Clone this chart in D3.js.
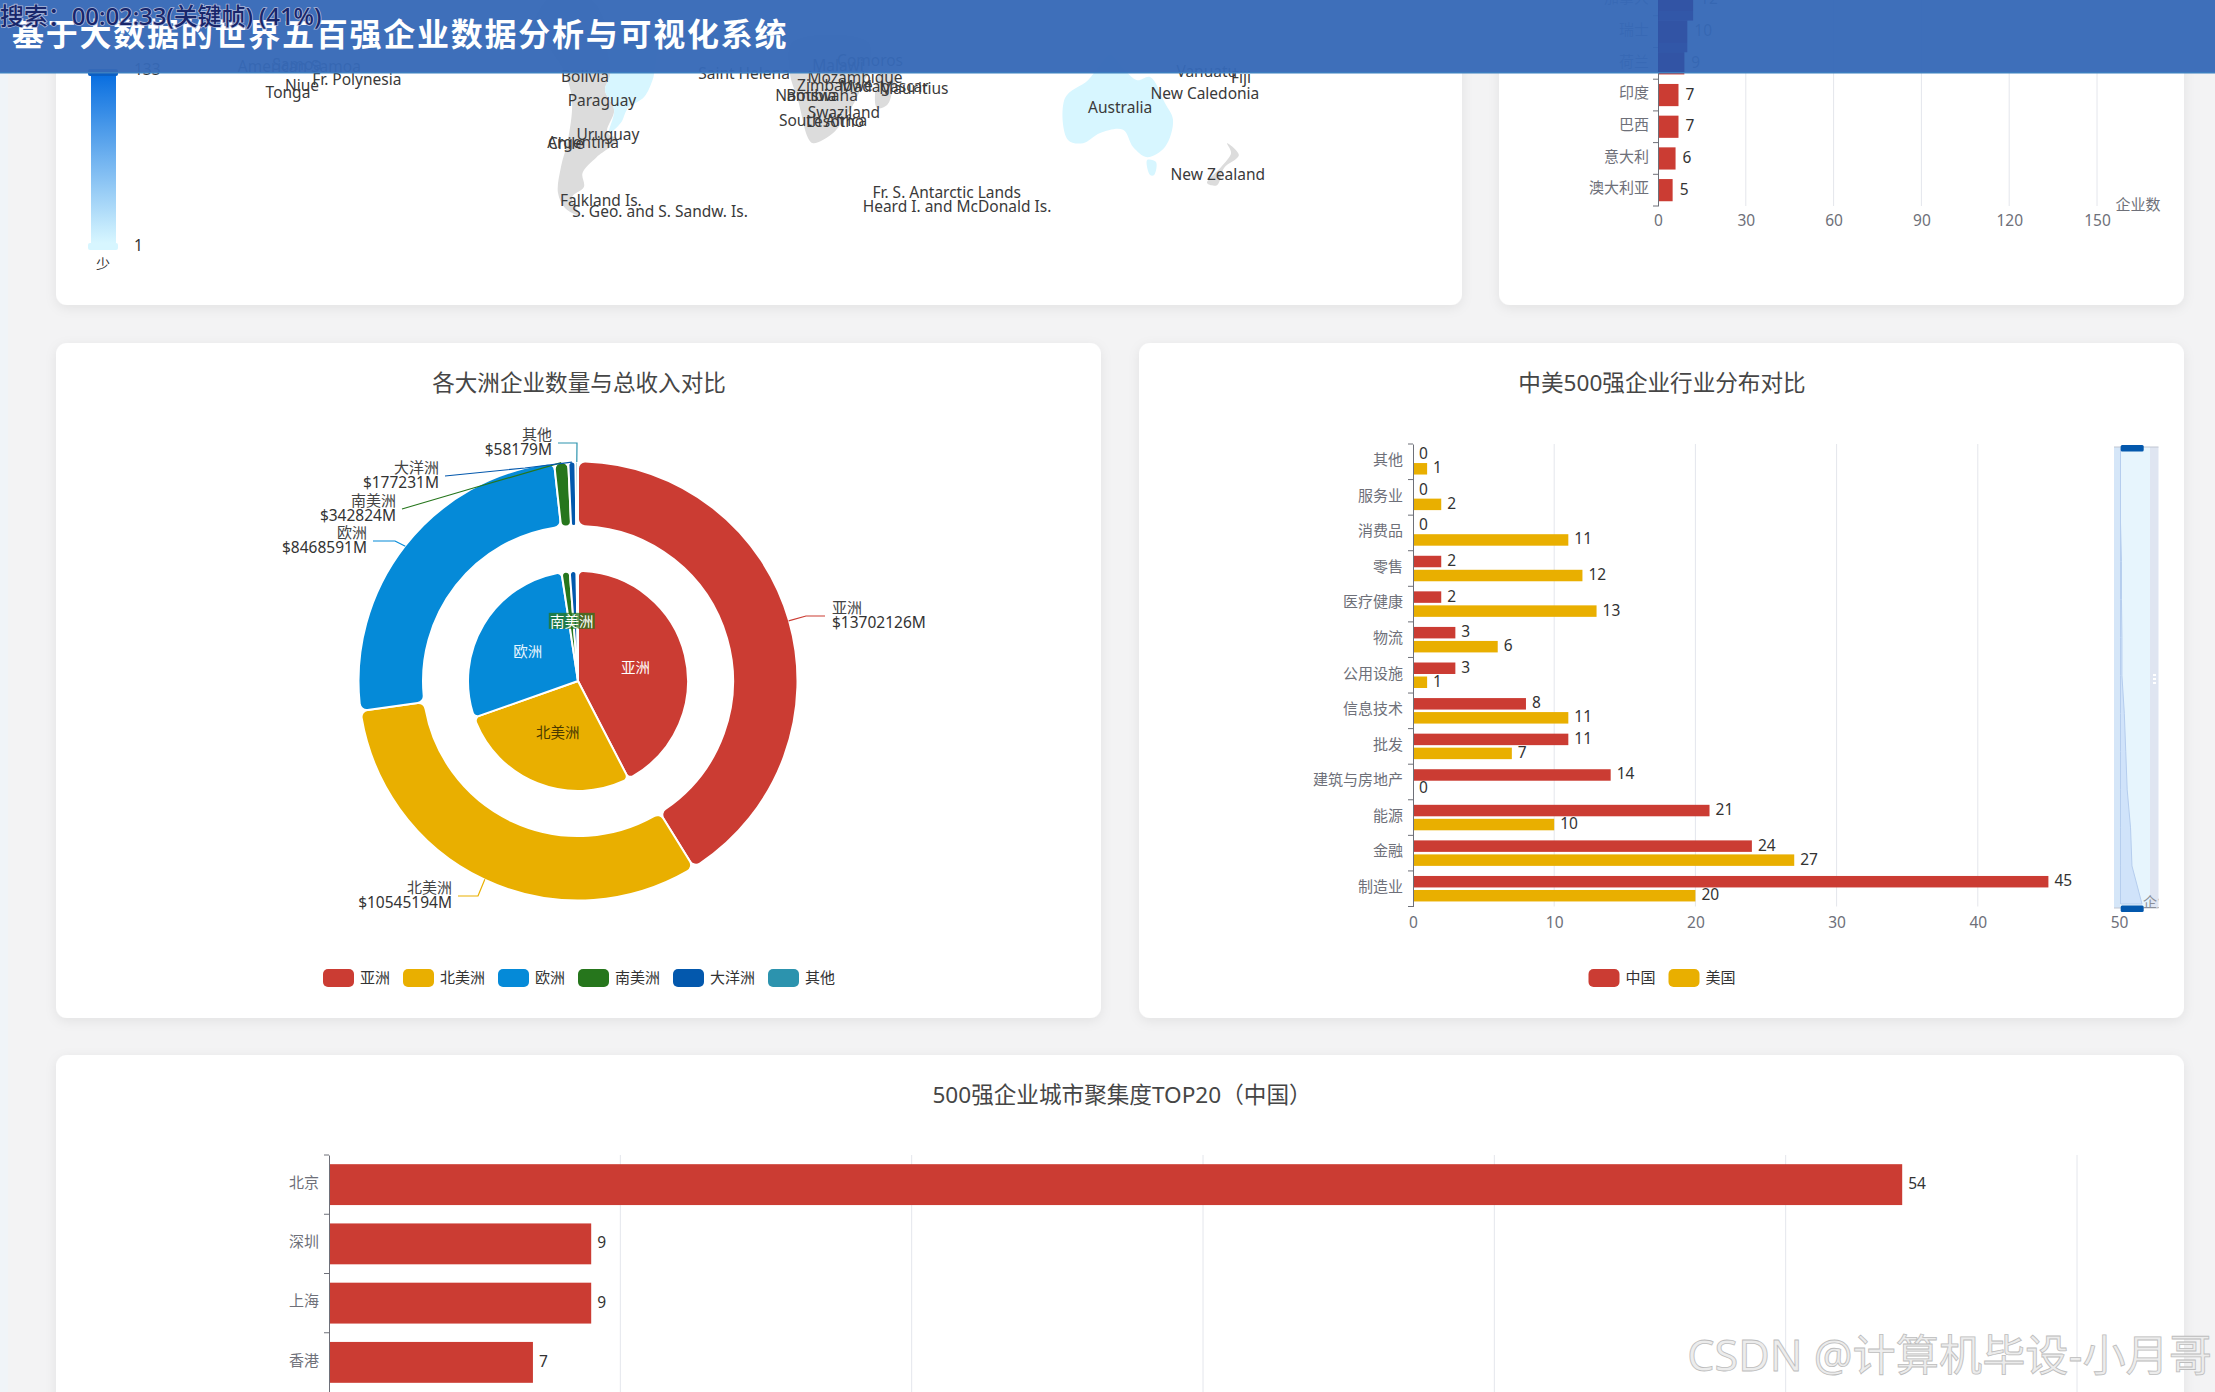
<!DOCTYPE html>
<html><head><meta charset="utf-8">
<script src="https://cdn.jsdelivr.net/npm/d3@7/dist/d3.min.js"></script>
<style>
html,body{margin:0;padding:0;background:#f3f3f4;overflow:hidden}
svg{display:block;font-family:"Noto Sans","Noto Sans CJK SC",sans-serif}
text{font-family:"Noto Sans","Noto Sans CJK SC",sans-serif}
</style></head><body>
<svg id="c" width="2215" height="1392"></svg>
<script>
// ---------- data ----------
const continents=["亚洲","北美洲","欧洲","南美洲","大洋洲","其他"];
const continentCompanies=[212,136,140,6,5,1];
const continentRevenue=[13702126,10545194,8468591,342824,177231,58179];
const continentColors=["#cb3c33","#e9af00","#058ad8","#26761c","#0358ad","#2c93ae"];

const industries=["其他","服务业","消费品","零售","医疗健康","物流","公用设施","信息技术","批发","建筑与房地产","能源","金融","制造业"];
const chinaCounts=[0,0,0,2,2,3,3,8,11,14,21,24,45];
const usaCounts=[1,2,11,12,13,6,1,11,7,0,10,27,20];
const compareNames=["中国","美国"];

const countries=["加拿大","瑞士","荷兰","印度","巴西","意大利","澳大利亚"];
const countryCounts=[12,10,9,7,7,6,5];
const countryTicks=[0,30,60,90,120,150];

const cities=["北京","深圳","上海","香港"];
const cityCounts=[54,9,9,7];
const cityTicks=[0,10,20,30,40,50,60];

// map: [lon, lat] outlines
const landGrey=[
 {name:"South America W",pts:[[-72,-8],[-78,-2],[-70,8],[-55,5],[-49.4,-14.9],[-51.5,-19.7],[-48.1,-25.4],[-50.7,-31.7],[-47,-34],[-54.6,-38.9],[-59.8,-43.4],[-59.3,-47.4],[-63.7,-50.3],[-61.1,-55.4],[-66.3,-53.4],[-68.9,-49.1],[-67.8,-41.7],[-65.2,-34],[-63.7,-22.6],[-66.3,-14.9]]},
 {name:"Southern Africa",pts:[[18,-6],[46,-6],[45.9,-14.9],[44.1,-17.7],[41.9,-21.7],[38.5,-26.3],[33,-32],[25.6,-34.9],[23.7,-33.4],[20,-22.6],[17,-14.9]]},
 {name:"Madagascar",pts:[[50.4,-14.9],[55.9,-14.9],[54.8,-20.6],[53,-24],[49.3,-24.9],[48.5,-21.1]]},
 {name:"New Zealand",pts:[[178.9,-34.9],[183.3,-38.3],[177.8,-42],[175.2,-46.9],[171.5,-46.3],[176.7,-41.7],[180.4,-37.7]]}
];
const landBlue=[
 {name:"Brazil",pts:[[-50,-5],[-33.3,-6],[-33.3,-14.9],[-33.9,-16.9],[-37,-21.7],[-43,-24.9],[-45.6,-29.1],[-50,-32],[-48.1,-25.4],[-51.5,-19.7],[-49.4,-14.9]]},
 {name:"Australia",pts:[[135.6,-9.7],[141,-14],[145.6,-16.9],[150.4,-16],[155.9,-23.4],[158.9,-28.3],[155.9,-36],[149.3,-38.9],[144.1,-36],[140.4,-31.1],[131.9,-32],[125.6,-34.9],[120,-34],[118.9,-22],[127.4,-16.9],[131.9,-12.6]]},
 {name:"Tasmania",pts:[[149.3,-39.7],[152.6,-40.3],[151.9,-44],[150.4,-44]]}
];
const mapLabels=[
 ["American Samoa",-164.7,-13.4],["Samoa",-165.5,-12.6],["Fr. Polynesia",-143.4,-17.1],["Niue",-163.7,-18.6],["Tonga",-168.9,-20.6],
 ["Bolivia",-58.9,-16],["Paraguay",-52.6,-22.9],["Uruguay",-50.4,-32.6],["Argentina",-59.6,-35.1],["Chile",-65.9,-35.4],
 ["Falkland Is.",-53,-51.7],["S. Geo. and S. Sandw. Is.",-31.1,-54.6],["Saint Helena",0,-15.4],
 ["Malawi",34.8,-13.1],["Comoros",46.7,-11.7],["Mozambique",41.1,-16.3],["Zimbabwe",33.7,-18.6],["Madagascar",51.9,-18.9],["Mauritius",62.9,-19.7],
 ["Namibia",22.9,-21.7],["Botswana",28.9,-21.7],["Swaziland",37,-26.3],["South Africa",29.3,-28.6],["Lesotho",33.7,-29.1],
 ["Fr. S. Antarctic Lands",75.1,-49.4],["Heard I. and McDonald Is.",78.9,-53.4],
 ["Australia",139.3,-25.1],["New Caledonia",170.7,-20.9],["Fiji",184.1,-16.3],["Vanuatu",171.4,-14.6],["New Zealand",175.5,-44]
];
const mapRange=[1,133];
const mapColors=["#d7f6ff","#0a6fe0"];

// ---------- helpers ----------
const svg=d3.select("#c");
const FONT=15, NUM=15.5;
const defs=svg.append("defs");
const f=defs.append("filter").attr("id","sh").attr("x","-5%").attr("y","-5%").attr("width","110%").attr("height","115%");
f.append("feDropShadow").attr("dx",0).attr("dy",3).attr("stdDeviation",6).attr("flood-color","#000").attr("flood-opacity",.07);
const g0=defs.append("linearGradient").attr("id","vm").attr("x1",0).attr("x2",0).attr("y1",1).attr("y2",0);
const vmScale=d3.scaleLinear().domain(mapRange).range(mapColors);
d3.range(0,11).forEach(i=>{const v=mapRange[0]+(mapRange[1]-mapRange[0])*i/10;g0.append("stop").attr("offset",i/10).attr("stop-color",vmScale(v));});

function card(x,y,w,h){svg.append("rect").attr("x",x).attr("y",y).attr("width",w).attr("height",h).attr("rx",11).attr("fill","#fff").attr("filter","url(#sh)");}
function title(t,x,y){svg.append("text").attr("x",x).attr("y",y-2).attr("text-anchor","middle").attr("dominant-baseline","central").attr("font-size",22.6).attr("fill","#464646").text(t);}
function label(g,t,x,y,o={}){return g.append("text").attr("x",x).attr("y",y-1.5).attr("text-anchor",o.a||"start").attr("dominant-baseline","central").attr("font-size",o.s||FONT).attr("fill",o.c||"#333").text(t);}
function legend(names,colors,cx,cy){
  const rw=31,rh=18,gap=6,sp=13,ch=15;
  const widths=names.map(n=>rw+gap+n.length*ch);
  const total=d3.sum(widths)+sp*(names.length-1);
  let x=cx-total/2;const g=svg.append("g");
  names.forEach((n,i)=>{
    g.append("rect").attr("x",x).attr("y",cy-rh/2).attr("width",rw).attr("height",rh).attr("rx",5).attr("fill",colors[i]);
    label(g,n,x+rw+gap,cy,{c:"#333"});
    x+=widths[i]+sp;
  });
}
function gridX(g,x,ticks,y0,y1){
  g.selectAll(null).data(ticks.slice(1)).join("line").attr("x1",d=>x(d)).attr("x2",d=>x(d)).attr("y1",y0).attr("y2",y1).attr("stroke","#e4e6ec").attr("stroke-width",1);
}
function styleAxis(a,left){
  a.selectAll("text").attr("fill","#6e7079").attr("font-size",left?FONT:NUM);
  if(left) a.selectAll("text").attr("dy",".22em");
  a.selectAll("path,line").attr("stroke","#6e7079");
  a.attr("font-family",null);
}
function valueLabels(g,cats,vals,xf,yf){
  g.selectAll(null).data(cats).join("text").attr("x",(d,i)=>xf(vals[i])).attr("y",d=>yf(d)-1.5).attr("dominant-baseline","central").attr("font-size",NUM).attr("fill","#333").text((d,i)=>vals[i]);
}

svg.append("rect").attr("width",8).attr("height",1392).attr("fill","#f0f4f8");

// ---------- cards ----------
card(56,-60,1406,365);
card(1499,-60,685,365);
card(56,343,1045,675);
card(1139,343,1045,675);
card(56,1055,2128,400);

// ---------- map ----------
const lonX=d3.scaleLinear().domain([0,100]).range([744,1014]);
const latY=d3.scaleLinear().domain([0,-50]).range([21,196]);
const geoLine=d3.line().x(d=>lonX(d[0])).y(d=>latY(d[1])).curve(d3.curveCatmullRomClosed.alpha(.5));
const mg=svg.append("g");
mg.selectAll(null).data(landGrey).join("path").attr("d",d=>geoLine(d.pts)).attr("fill","#dcdcdc");
mg.selectAll(null).data(landBlue).join("path").attr("d",d=>geoLine(d.pts)).attr("fill",vmScale(1));
mg.selectAll(null).data(mapLabels).join("text").attr("x",d=>lonX(d[1])).attr("y",d=>latY(d[2])-1.5).attr("text-anchor","middle").attr("dominant-baseline","central").attr("font-size",NUM).attr("fill","#3a3a3a").text(d=>d[0]);

// visual map
const vm=d3.scaleLinear().domain(mapRange).range([243,76]);
const vg=svg.append("g");
vg.append("rect").attr("x",91).attr("y",vm(mapRange[1])).attr("width",25).attr("height",vm(mapRange[0])-vm(mapRange[1])).attr("fill","url(#vm)");
vg.append("rect").attr("x",88).attr("y",243).attr("width",30).attr("height",7).attr("rx",2).attr("fill",vmScale(1));
vg.append("rect").attr("x",88).attr("y",69).attr("width",30).attr("height",7).attr("rx",2).attr("fill","#0a5fc4");
label(vg,String(mapRange[0]),134,246,{c:"#333",s:NUM});
label(vg,String(mapRange[1]),134,70,{c:"#333",s:NUM});
label(vg,"少",103,265,{a:"middle",c:"#333",s:14});

// ---------- country bars ----------
const cx=d3.scaleLinear().domain([0,150]).range([1658,2097]);
const rowH=31.7, cyTop=206-rowH*countries.length;
const cy=d3.scaleBand().domain(countries).range([cyTop,206]).paddingInner(.3).paddingOuter(.15);
const cg=svg.append("g");
gridX(cg,cx,countryTicks,cyTop,206);
cg.selectAll(null).data(countries).join("rect").attr("x",cx(0)).attr("y",d=>cy(d)).attr("width",(d,i)=>cx(countryCounts[i])-cx(0)).attr("height",cy.bandwidth()).attr("fill","#cb3c33");
valueLabels(cg,countries,countryCounts,v=>cx(v)+7,d=>cy(d)+cy.bandwidth()/2);
const ax1=cg.append("g").attr("transform","translate(1658,0)").call(d3.axisLeft(d3.scaleBand().domain(countries).range([cyTop,206])).tickSize(0).tickPadding(9));
styleAxis(ax1,true);
d3.range(0,countries.length+1).forEach(i=>cg.append("line").attr("x1",1653).attr("x2",1658).attr("y1",206-i*rowH).attr("y2",206-i*rowH).attr("stroke","#6e7079"));
const ax2=cg.append("g").attr("transform","translate(0,206)").call(d3.axisBottom(cx).tickValues(countryTicks).tickSize(0).tickPadding(9));
ax2.select(".domain").remove();styleAxis(ax2);
label(cg,"企业数",2138,205,{a:"middle",c:"#6e7079"});

// ---------- pies ----------
title("各大洲企业数量与总收入对比",579,384);
const PC=[578,681];
const pie=d3.pie().sort(null).startAngle(0).endAngle(2*Math.PI).padAngle(0);
const pg=svg.append("g").attr("transform",`translate(${PC})`);
const arcInner=d3.arc().innerRadius(0).outerRadius(110).cornerRadius(5);
const arcOuter=d3.arc().innerRadius(155).outerRadius(219.5).cornerRadius(7);
const innerArcs=pie(continentCompanies), outerArcs=pie(continentRevenue);
pg.selectAll(null).data(innerArcs).join("path").attr("d",arcInner).attr("fill",(d,i)=>continentColors[i]).attr("stroke","#fff").attr("stroke-width",2);
pg.selectAll(null).data(outerArcs).join("path").attr("d",arcOuter).attr("fill",(d,i)=>continentColors[i]).attr("stroke","#fff").attr("stroke-width",2);
// inner labels at half radius
const labelArc=d3.arc().innerRadius(0).outerRadius(110);
const innerLabelColor=["#fff","#4a3a00","#e8f6ff","#fff"];
const innerNudge=[[4,0],[0,1],[-3,0],[0,-4]];
innerArcs.slice(0,4).forEach((d,i)=>{
  const [x0,y0]=labelArc.centroid(d), x=x0+innerNudge[i][0], y=y0+innerNudge[i][1];
  if(i===3) pg.append("rect").attr("x",x-23).attr("y",y-9.5).attr("width",46).attr("height",16).attr("fill",continentColors[3]).attr("opacity",.75);
  label(pg,continents[i],x,y,{a:"middle",c:innerLabelColor[i],s:14.5});
});
// outer callouts: label anchor relative to chart centre and elbow
const callouts=[
 {dx:254,dy:-65,side:1,elbowDy:-65,elbowDx:228},
 {dx:-126,dy:215,side:-1,elbowDy:215,elbowDx:-100},
 {dx:-211,dy:-140,side:-1,elbowDy:-140,elbowDx:-183},
 {dx:-182,dy:-172,side:-1,elbowDy:-192,elbowDx:-108},
 {dx:-139,dy:-205,side:-1,elbowDy:-213,elbowDx:-53},
 {dx:-26,dy:-238,side:-1,elbowDy:-238,elbowDx:-1}
];
outerArcs.forEach((d,i)=>{
  const c=callouts[i], a=(d.startAngle+d.endAngle)/2;
  const sx=Math.sin(a)*219, sy=-Math.cos(a)*219;
  const endX=c.dx+(c.side>0?-7:6);
  pg.append("path").attr("d",d3.line()([[sx,sy],[c.elbowDx,c.elbowDy],[endX,c.dy]])).attr("fill","none").attr("stroke",continentColors[i]).attr("stroke-width",1.2);
  const an=c.side>0?"start":"end";
  label(pg,continents[i],c.dx,c.dy-8,{a:an,c:"#444"});
  label(pg,"$"+continentRevenue[i]+"M",c.dx,c.dy+7,{a:an,c:"#333",s:NUM});
});
legend(continents,continentColors,579,978);

// ---------- compare chart ----------
title("中美500强企业行业分布对比",1662,384);
const bx=d3.scaleLinear().domain([0,50]).range([1413,2119]);
const by=d3.scaleBand().domain(industries).range([444,906.5]);
const inner=d3.scaleBand().domain(compareNames).range([0,by.bandwidth()]).paddingInner(.18).paddingOuter(.36);
const bg=svg.append("g");
gridX(bg,bx,[0,10,20,30,40],444,906.5);
[[chinaCounts,0,"#cb3c33"],[usaCounts,1,"#e9af00"]].forEach(([vals,s,col])=>{
  const off=inner(compareNames[s]);
  bg.selectAll(null).data(industries).join("rect").attr("x",bx(0)).attr("y",d=>by(d)+off).attr("width",(d,i)=>bx(vals[i])-bx(0)).attr("height",inner.bandwidth()).attr("fill",col);
  valueLabels(bg,industries,vals,v=>bx(v)+6,d=>by(d)+off+inner.bandwidth()/2);
});
const ax3=bg.append("g").attr("transform","translate(1413,0)").call(d3.axisLeft(by).tickSize(0).tickPadding(10));
styleAxis(ax3,true);
by.domain().concat(["_"]).forEach((d,i)=>{const y=444+i*by.bandwidth();bg.append("line").attr("x1",1408).attr("x2",1413).attr("y1",y).attr("y2",y).attr("stroke","#6e7079");});
const ax4=bg.append("g").attr("transform","translate(0,906.5)").call(d3.axisBottom(bx).tickValues([0,10,20,30,40,50]).tickSize(0).tickPadding(10));
ax4.select(".domain").remove();styleAxis(ax4);
// data zoom
const dz=svg.append("g");
dz.append("rect").attr("x",2114).attr("y",447).attr("width",6.5).attr("height",461).attr("fill","#d5e6f8");
dz.append("rect").attr("x",2120.5).attr("y",447).attr("width",29.5).attr("height",461).attr("fill","#e7f5fd");
dz.append("rect").attr("x",2150).attr("y",447).attr("width",8.5).attr("height",461).attr("fill","#dfe5f1");
const sy=d3.scalePoint().domain(industries).range([447,904]);
const sx=d3.scaleLinear().domain([0,45]).range([2120.5,2142]);
dz.append("path").datum(industries).attr("d",d3.area().x0(2120.5).x1((d,i)=>sx(chinaCounts[i])).y(d=>sy(d))).attr("fill","#d0e3fa").attr("stroke","#b5cdee").attr("stroke-width",1);
dz.append("path").attr("d","M2114 447H2158.5M2114 908H2158.5").attr("stroke","#c0c6d2");
[445,905.5].forEach(y=>dz.append("rect").attr("x",2120.7).attr("y",y).attr("width",23).attr("height",6.5).attr("rx",1.5).attr("fill","#0358ad"));
[674,678,682].forEach(y=>dz.append("rect").attr("x",2153).attr("y",y).attr("width",3).attr("height",2).attr("fill","#fff"));
defs.append("clipPath").attr("id","nm").append("rect").attr("x",2140).attr("y",890).attr("width",18.5).attr("height",20);
label(dz,"企业数",2143,903,{c:"#8b8f99",s:14}).attr("clip-path","url(#nm)");
legend(compareNames,["#cb3c33","#e9af00"],1662,978);

// ---------- city chart ----------
title("500强企业城市聚集度TOP20（中国）",1122,1096);
const tx=d3.scaleLinear().domain([0,60]).range([329,2077]);
const ty=d3.scaleBand().domain(cities).range([1155,1392]).paddingInner(.31).paddingOuter(.155);
const tg=svg.append("g");
gridX(tg,tx,cityTicks,1155,1392);
tg.selectAll(null).data(cities).join("rect").attr("x",tx(0)).attr("y",d=>ty(d)).attr("width",(d,i)=>tx(cityCounts[i])-tx(0)).attr("height",ty.bandwidth()).attr("fill","#cb3c33");
valueLabels(tg,cities,cityCounts,v=>tx(v)+6,d=>ty(d)+ty.bandwidth()/2);
const ax5=tg.append("g").attr("transform","translate(329,0)").call(d3.axisLeft(d3.scaleBand().domain(cities).range([1155,1392])).tickSize(0).tickPadding(10));
styleAxis(ax5,true);
d3.range(0,4).forEach(i=>tg.append("line").attr("x1",324).attr("x2",329).attr("y1",1155+i*59.25).attr("y2",1155+i*59.25).attr("stroke","#6e7079"));

// ---------- header & overlays ----------
svg.append("rect").attr("width",2215).attr("height",73).attr("fill","#3669b7").attr("opacity",.96);
// bars seen through the header read as a darker band
defs.append("clipPath").attr("id","hd").append("rect").attr("width",2215).attr("height",72);
svg.append("g").attr("clip-path","url(#hd)").selectAll(null).data(countries.slice(0,4)).join("rect")
  .attr("x",cx(0)).attr("y",d=>cy(d)).attr("width",(d,i)=>cx(countryCounts[i])-cx(0)).attr("height",rowH)
  .attr("fill","#2c4a9e").attr("opacity",.65);
svg.append("rect").attr("y",72).attr("width",2215).attr("height",1.5).attr("fill","#3d7fc0");
svg.append("text").attr("x",12).attr("y",33.5).attr("dominant-baseline","central").attr("font-size",32).attr("font-weight",700).attr("letter-spacing",1.75).attr("fill","#fff").text("基于大数据的世界五百强企业数据分析与可视化系统");
svg.append("text").attr("x",0).attr("y",15.5).attr("dominant-baseline","central").attr("font-size",24).attr("font-weight",500).attr("letter-spacing",-.1).attr("fill","#18266b").attr("stroke","#aab6d8").attr("stroke-width",1.6).attr("paint-order","stroke").text("搜索：00:02:33(关键帧) (41%)");
svg.append("text").attr("x",2212).attr("y",1354).attr("text-anchor","end").attr("dominant-baseline","central").attr("font-size",43.2).attr("fill","#ececec").attr("stroke","#bdbdbd").attr("stroke-width",.8).text("CSDN @计算机毕设-小月哥");
</script>
</body></html>
